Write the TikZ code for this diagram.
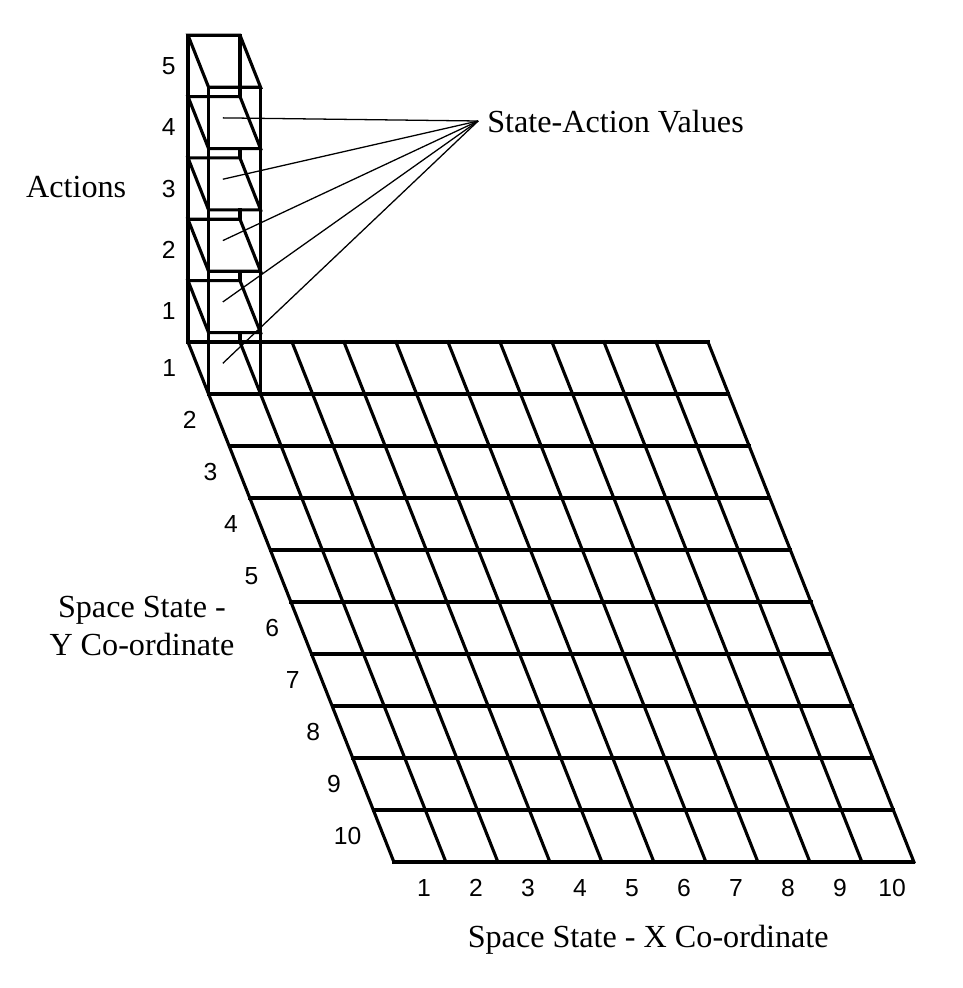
\documentclass[tikz,border=0pt]{standalone}
\usepackage{fontspec}
\setmainfont{Liberation Serif}
\setsansfont{Liberation Sans}
\usepackage{tikz}
\tikzset{
	num/.style={font=\sffamily\fontsize{13.5}{15}\selectfont,inner sep=0pt},
	txt/.style={font=\fontsize{17.6}{20.7}\selectfont,inner sep=0pt},
	edge/.style={line width=1.7pt,line cap=rect},
	lead/.style={line width=0.7pt}
}

\begin{document}
\begin{tikzpicture}[x=1cm,y=1cm]
	\useasboundingbox (-3.615,-12.423) rectangle (14.885,6.577);

	\begin{scope}[xslant=-0.396]
		\foreach \j in {0,...,10}
			\draw[edge] (0,-\j) -- (10,-\j);
		\foreach \i in {0,...,10}
			\draw[edge] (\i,0) -- (\i,-10);
	\end{scope}

	\foreach \k in {1,...,5}
		\draw[edge] (0,\k*1.18) -- (1,\k*1.18) -- (1.396,\k*1.18-1) -- (0.396,\k*1.18-1) -- cycle;
	\draw[edge] (0,0) -- (0,5.9);
	\draw[edge] (0.396,-1) -- (0.396,4.9);
	\draw[edge] (1.396,-1) -- (1.396,4.9);
	\draw[edge] (1,5.9) -- (1,4.72);
	\foreach \k in {1,...,4}
		\draw[edge] (1,\k*1.18-1) -- (1,\k*1.18-1.18);

	\coordinate (focus) at (5.58,4.25);
	\node[txt,anchor=west] (sav) at (5.75,4.23) {State-Action Values};
	\foreach \k in {1,...,5}{
		\coordinate (sa\k) at (0.67,\k*1.18-1.59);
		\draw[lead] (sa\k) -- (focus);
	}

	\foreach \k in {1,...,5}
		\node[num] (act\k) at (-0.37,\k*1.18-0.59) {\k};
	\foreach \j in {1,...,10}
		\node[num,anchor=east] (row\j) at ({0.396*(\j-0.5)-0.42},{0.5-\j}) {\j};
	\foreach \i in {1,...,10}
		\node[num] (col\i) at ({\i-0.5+4.04},-10.5) {\i};

	\node[txt] (actions) at (-2.15,2.98) {Actions};
	\node[txt,align=center] (ylab) at (-0.885,-5.46) {Space State -\\Y Co-ordinate};
	\node[txt] (xlab) at (8.85,-11.5) {Space State - X Co-ordinate};
\end{tikzpicture}
\end{document}
